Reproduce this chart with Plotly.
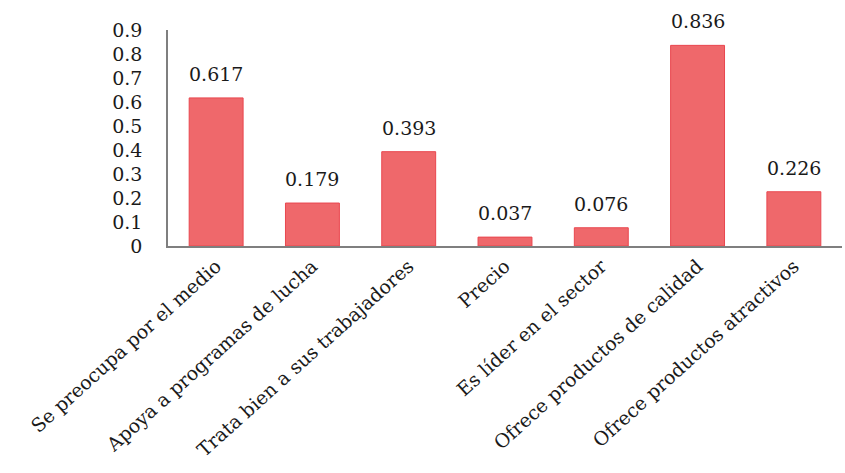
import plotly.graph_objects as go

categories = [
    "Se preocupa por el medio",
    "Apoya a programas de lucha",
    "Trata bien a sus trabajadores",
    "Precio",
    "Es líder en el sector",
    "Ofrece productos de calidad",
    "Ofrece productos atractivos",
]
values = [0.617, 0.179, 0.393, 0.037, 0.076, 0.836, 0.226]
y_ticks = [0, 0.1, 0.2, 0.3, 0.4, 0.5, 0.6, 0.7, 0.8, 0.9]
y_ticktext = ["0", "0.1", "0.2", "0.3", "0.4", "0.5", "0.6", "0.7", "0.8", "0.9"]

FONT = "DejaVu Serif"

fig = go.Figure()
fig.add_trace(go.Bar(
    x=categories, y=values,
    marker=dict(color="#EF686B", line=dict(color="#E9474F", width=1)),
    width=0.56,
    hoverinfo="skip",
))

for c, v in zip(categories, values):
    fig.add_annotation(x=c, y=v, text=f"{v:.3f}", showarrow=False,
                       yanchor="bottom", yshift=11,
                       font=dict(family=FONT, size=19, color="#1a1a1a"))

fig.update_layout(
    width=845, height=473,
    margin=dict(l=168, r=3, t=30, b=227),
    paper_bgcolor="white", plot_bgcolor="white",
    showlegend=False,
    font=dict(family=FONT, size=19, color="#1a1a1a"),
    bargap=0.44,
)
fig.update_xaxes(
    showline=True, linecolor="#7f7f7f", linewidth=1.5,
    tickangle=-42, ticks="", showgrid=False, automargin=False,
    tickfont=dict(family=FONT, size=19, color="#1a1a1a"),
)
fig.update_yaxes(
    range=[0, 0.9], tickvals=y_ticks, ticktext=y_ticktext,
    showline=True, linecolor="#7f7f7f", linewidth=1.5,
    showgrid=False, zeroline=False, ticks="", automargin=False,
    ticklabelstandoff=20,
    tickfont=dict(family=FONT, size=19, color="#1a1a1a"),
)

fig.write_html("out.html")
